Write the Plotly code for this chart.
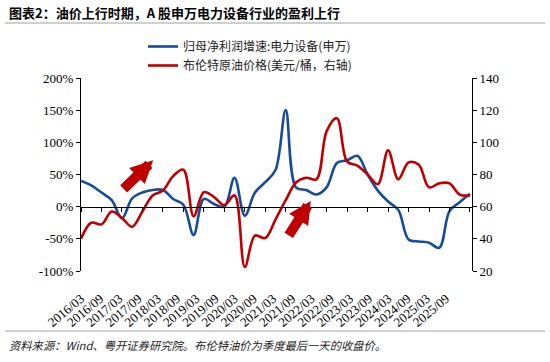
import plotly.graph_objects as go

quarters = ["2016/03", "2016/06", "2016/09", "2016/12",
            "2017/03", "2017/06", "2017/09", "2017/12",
            "2018/03", "2018/06", "2018/09", "2018/12",
            "2019/03", "2019/06", "2019/09", "2019/12",
            "2020/03", "2020/06", "2020/09", "2020/12",
            "2021/03", "2021/06", "2021/09", "2021/12",
            "2022/03", "2022/06", "2022/09", "2022/12",
            "2023/03", "2023/06", "2023/09", "2023/12",
            "2024/03", "2024/06", "2024/09", "2024/12",
            "2025/03", "2025/06", "2025/09"]

profit_growth = [40, 33, 22, 10, -18, 13, 22, 26, 26, 12, 3, -44,
                 12, 4, 0, 45, -14, 22, 38, 57, 150, 30, 26, 19,
                 30, 68, 72, 79, 50, 25, 8, -5, -51, -54, -56, -64,
                 -7, 7, 20]

brent = [40, 50, 49, 57, 53, 47.5, 57, 67, 70, 79, 83, 54,
         69, 66, 61, 67, 22.5, 42, 40.5, 52, 64, 75, 78, 77,
         107, 115, 88, 85.5, 80, 74, 95, 77, 87.5, 86, 72, 74.5,
         74.5, 67.5, 67]

x_tick_labels = quarters[::2]
left_tick_vals = [-100, -50, 0, 50, 100, 150, 200]
left_tick_text = ["-100%", "-50%", "0%", "50%", "100%", "150%", "200%"]
right_tick_vals = [20, 40, 60, 80, 100, 120, 140]

name_profit = "归母净利润增速:电力设备(申万)"
name_brent = "布伦特原油价格(美元/桶，右轴)"
title_text = "图表2：油价上行时期，A 股申万电力设备行业的盈利上行"
source_text = "资料来源：Wind、粤开证券研究院。布伦特油价为季度最后一天的收盘价。"

BLUE = "#164B9B"
RED = "#C00000"
W, H = 550, 362
ML, MR, MT, MB = 81, 78, 78, 91
PW, PH = W - ML - MR, H - MT - MB


def px(xp):
    return (xp - ML) / PW


def py(yp):
    return (H - MB - yp) / PH


serif = "Liberation Serif"
cjk = "Noto Sans CJK SC"

fig = go.Figure()
fig.add_trace(go.Scatter(x=quarters, y=profit_growth, name=name_profit,
                         mode="lines", line=dict(color=BLUE, width=2.6, shape="spline", smoothing=1),
                         xaxis="x", yaxis="y"))
fig.add_trace(go.Scatter(x=quarters, y=brent, name=name_brent,
                         mode="lines", line=dict(color=RED, width=2.6, shape="spline", smoothing=1),
                         xaxis="x", yaxis="y2"))
# carrier for the date-label axis (no visible marks)
fig.add_trace(go.Scatter(x=[None], y=[None], xaxis="x2", yaxis="y", mode="lines",
                         showlegend=False, hoverinfo="skip"))

n = len(quarters)
lab_dom = [px(81), px(446)]

fig.update_layout(
    width=W, height=H,
    margin=dict(l=ML, r=MR, t=MT, b=MB, autoexpand=False),
    paper_bgcolor="white", plot_bgcolor="rgba(0,0,0,0)",
    showlegend=True,
    legend=dict(x=px(143), y=py(32), xanchor="left", yanchor="top",
                font=dict(family=cjk, size=12, color="#222"),
                bgcolor="rgba(0,0,0,0)", tracegroupgap=0, itemwidth=30),
    xaxis=dict(type="category", categoryorder="array", categoryarray=quarters,
               range=[0, n - 1 + 0.2], anchor="free", position=1/3,
               showline=True, linecolor="black", linewidth=1,
               ticks="outside", ticklen=4, tickcolor="black",
               tickmode="array", tickvals=quarters[::2],
               showticklabels=False, showgrid=False, zeroline=False),
    xaxis2=dict(domain=lab_dom, anchor="y", range=[0, n - 1],
                tickmode="array", tickvals=list(range(0, n, 2)), ticktext=x_tick_labels,
                tickangle=-40, ticks="outside", ticklen=14, tickcolor="rgba(0,0,0,0)",
                showline=False, showgrid=False, zeroline=False,
                tickfont=dict(family=serif, size=13, color="black")),
    yaxis=dict(range=[-100, 200], tickmode="array", tickvals=left_tick_vals, ticktext=left_tick_text,
               showline=True, linecolor="black", linewidth=1,
               ticks="outside", ticklen=4, tickcolor="black",
               showgrid=False, zeroline=False,
               tickfont=dict(family=serif, size=13, color="black")),
    yaxis2=dict(range=[20, 140], tickmode="array", tickvals=right_tick_vals,
                overlaying="y", side="right", anchor="x",
                showline=True, linecolor="black", linewidth=1,
                ticks="outside", ticklen=4, tickcolor="black",
                showgrid=False, zeroline=False,
                tickfont=dict(family=serif, size=13, color="black")),
)

# title and footer
fig.add_annotation(text="<b>" + title_text + "</b>", xref="paper", yref="paper",
                   x=px(7), y=py(13), xanchor="left", yanchor="middle", showarrow=False,
                   font=dict(family=cjk, size=13, color="black"))
fig.add_annotation(text="<i>" + source_text + "</i>", xref="paper", yref="paper",
                   x=px(7), y=py(345), xanchor="left", yanchor="middle", showarrow=False,
                   font=dict(family=cjk, size=11.3, color="#222"))
fig.add_shape(type="line", xref="paper", yref="paper", x0=px(5), x1=px(545), y0=py(23), y1=py(23),
              line=dict(color="#A0A0A0", width=1))
fig.add_shape(type="line", xref="paper", yref="paper", x0=px(5), x1=px(545), y0=py(331), y1=py(331),
              line=dict(color="#A0A0A0", width=1))

# arrows
fig.add_annotation(x=7.05, y=72, xref="x", yref="y", ax=-31, ay=30, text="",
                   showarrow=True, arrowhead=2, arrowsize=0.45, arrowwidth=10, arrowcolor=RED)
fig.add_annotation(x=22.45, y=9, xref="x", yref="y", ax=-23, ay=36, text="",
                   showarrow=True, arrowhead=2, arrowsize=0.45, arrowwidth=10, arrowcolor=RED)

fig.write_html("out.html", config={"displayModeBar": False},
               post_script="document.body.style.margin='0px';")
